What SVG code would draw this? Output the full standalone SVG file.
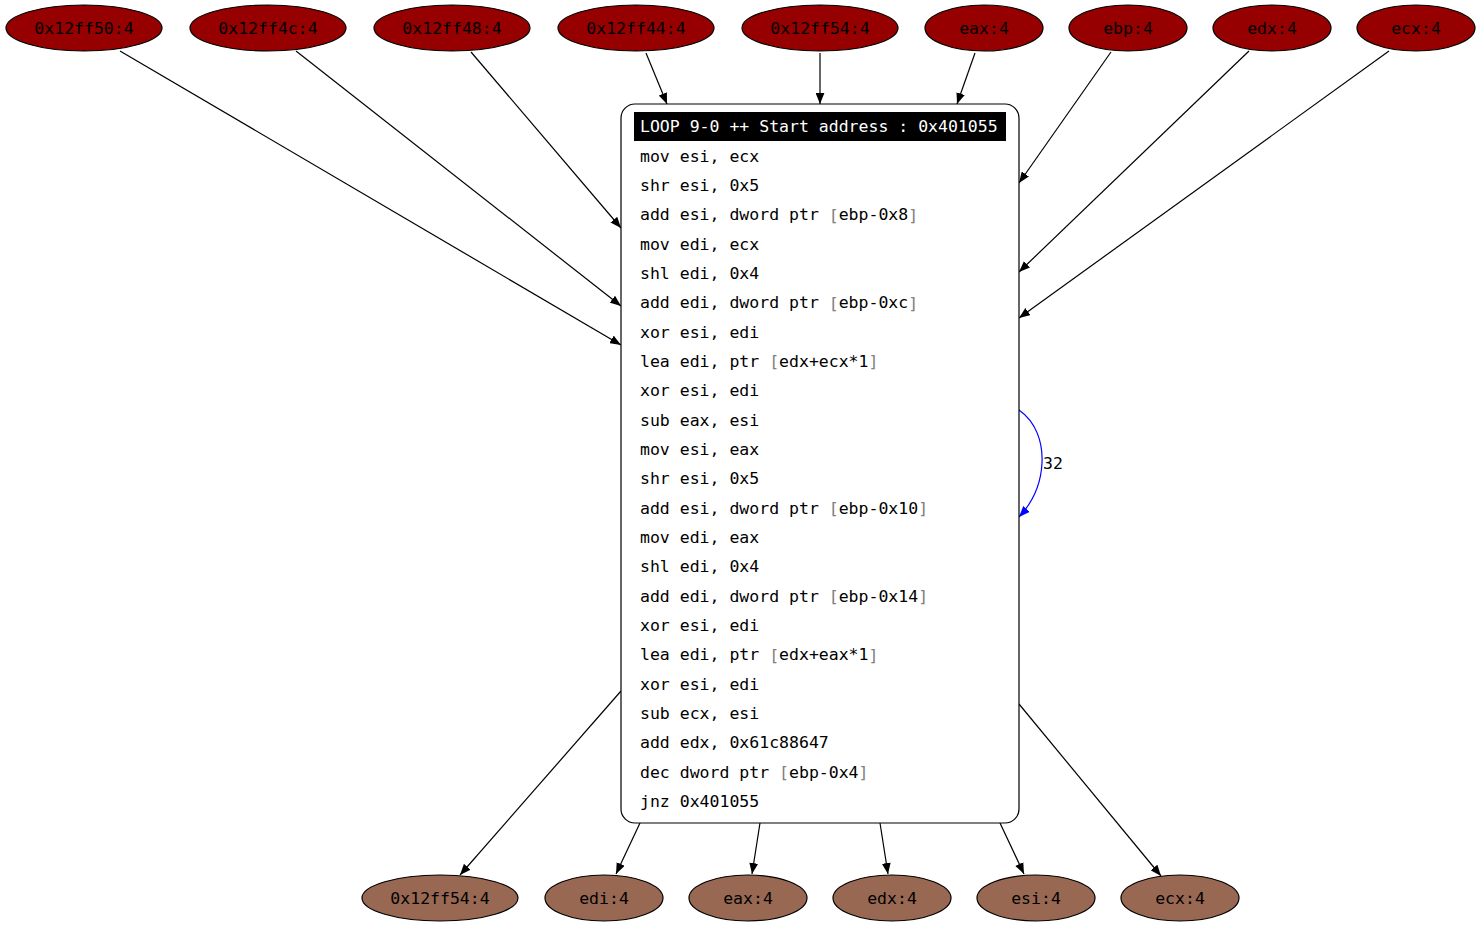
<svg xmlns="http://www.w3.org/2000/svg" width="1480" height="928" viewBox="0 0 1480 928">
  <style>
    text { font-family: "DejaVu Sans Mono", "Liberation Mono", monospace; font-size: 16.5px; }
    .in ellipse { fill: #960000; stroke: #000; stroke-width: 1.2; }
    .out ellipse { fill: #986852; stroke: #000; stroke-width: 1.2; }
    .lbl { text-anchor: middle; dominant-baseline: central; fill: #000; }
    .code { fill: #000; dominant-baseline: central; }
    .br { fill: #808080; }
    .edge { stroke: #000; stroke-width: 1.2; fill: none; marker-end: url(#arr); }
    .loop { stroke: #0000ff; stroke-width: 1.2; fill: none; marker-end: url(#arrb); }
  </style>
  <defs>
    <marker id="arr" viewBox="0 0 10 8" refX="10" refY="4" markerWidth="11" markerHeight="9" markerUnits="userSpaceOnUse" orient="auto">
      <path d="M0,0 L10,4 L0,8 Z" fill="#000"/>
    </marker>
    <marker id="arrb" viewBox="0 0 10 8" refX="10" refY="4" markerWidth="11" markerHeight="9" markerUnits="userSpaceOnUse" orient="auto">
      <path d="M0,0 L10,4 L0,8 Z" fill="#0000ff"/>
    </marker>
  </defs>
  <rect width="1480" height="928" fill="#fff"/>

  <!-- connectors -->
  <g id="edges">
    <line class="edge" x1="120" y1="51" x2="621" y2="345"/>
    <line class="edge" x1="296" y1="51" x2="621" y2="306"/>
    <line class="edge" x1="471" y1="52" x2="621" y2="228"/>
    <line class="edge" x1="646" y1="53" x2="667" y2="104"/>
    <line class="edge" x1="820" y1="53" x2="820" y2="104"/>
    <line class="edge" x1="975" y1="53" x2="957" y2="104"/>
    <line class="edge" x1="1111" y1="52" x2="1019" y2="183"/>
    <line class="edge" x1="1249" y1="51" x2="1019" y2="272"/>
    <line class="edge" x1="1389" y1="51" x2="1019" y2="318"/>
    <line class="edge" x1="621" y1="691" x2="460" y2="875"/>
    <line class="edge" x1="640" y1="823" x2="616" y2="874"/>
    <line class="edge" x1="760" y1="823" x2="752" y2="874"/>
    <line class="edge" x1="880" y1="823" x2="888" y2="874"/>
    <line class="edge" x1="1000" y1="823" x2="1024" y2="874"/>
    <line class="edge" x1="1019" y1="704" x2="1161" y2="876"/>
    <path class="loop" d="M1019,410 C1036,422 1043,442 1042,463 C1041,484 1033,502 1019,517"/>
    <text x="1043" y="463" class="code">32</text>
  </g>

  <!-- input nodes -->
  <g id="in_0x12ff50" class="in"><ellipse cx="84" cy="28" rx="78" ry="23"/><text class="lbl" x="84" y="28">0x12ff50:4</text></g>
  <g id="in_0x12ff4c" class="in"><ellipse cx="268" cy="28" rx="78" ry="23"/><text class="lbl" x="268" y="28">0x12ff4c:4</text></g>
  <g id="in_0x12ff48" class="in"><ellipse cx="452" cy="28" rx="78" ry="23"/><text class="lbl" x="452" y="28">0x12ff48:4</text></g>
  <g id="in_0x12ff44" class="in"><ellipse cx="636" cy="28" rx="78" ry="23"/><text class="lbl" x="636" y="28">0x12ff44:4</text></g>
  <g id="in_0x12ff54" class="in"><ellipse cx="820" cy="28" rx="78" ry="23"/><text class="lbl" x="820" y="28">0x12ff54:4</text></g>
  <g id="in_eax" class="in"><ellipse cx="984" cy="28" rx="59" ry="23"/><text class="lbl" x="984" y="28">eax:4</text></g>
  <g id="in_ebp" class="in"><ellipse cx="1128" cy="28" rx="59" ry="23"/><text class="lbl" x="1128" y="28">ebp:4</text></g>
  <g id="in_edx" class="in"><ellipse cx="1272" cy="28" rx="59" ry="23"/><text class="lbl" x="1272" y="28">edx:4</text></g>
  <g id="in_ecx" class="in"><ellipse cx="1416" cy="28" rx="59" ry="23"/><text class="lbl" x="1416" y="28">ecx:4</text></g>

  <!-- loop body -->
  <g id="loop_9_0">
    <rect x="621" y="104" width="398" height="719" rx="14" ry="14" fill="#fff" stroke="#000" stroke-width="1.2"/>
    <rect x="634" y="112" width="372" height="29" fill="#000"/>
    <text x="640" y="126" class="code" style="fill:#fff">LOOP 9-0 ++ Start address : 0x401055</text>
    <text x="640" y="156" class="code">mov esi, ecx</text>
    <text x="640" y="185.3" class="code">shr esi, 0x5</text>
    <text x="640" y="214.6" class="code">add esi, dword ptr <tspan class="br">[</tspan>ebp-0x8<tspan class="br">]</tspan></text>
    <text x="640" y="244" class="code">mov edi, ecx</text>
    <text x="640" y="273.3" class="code">shl edi, 0x4</text>
    <text x="640" y="302.6" class="code">add edi, dword ptr <tspan class="br">[</tspan>ebp-0xc<tspan class="br">]</tspan></text>
    <text x="640" y="332" class="code">xor esi, edi</text>
    <text x="640" y="361.3" class="code">lea edi, ptr <tspan class="br">[</tspan>edx+ecx*1<tspan class="br">]</tspan></text>
    <text x="640" y="390.6" class="code">xor esi, edi</text>
    <text x="640" y="420" class="code">sub eax, esi</text>
    <text x="640" y="449.3" class="code">mov esi, eax</text>
    <text x="640" y="478.6" class="code">shr esi, 0x5</text>
    <text x="640" y="508" class="code">add esi, dword ptr <tspan class="br">[</tspan>ebp-0x10<tspan class="br">]</tspan></text>
    <text x="640" y="537.3" class="code">mov edi, eax</text>
    <text x="640" y="566.6" class="code">shl edi, 0x4</text>
    <text x="640" y="596" class="code">add edi, dword ptr <tspan class="br">[</tspan>ebp-0x14<tspan class="br">]</tspan></text>
    <text x="640" y="625.3" class="code">xor esi, edi</text>
    <text x="640" y="654.6" class="code">lea edi, ptr <tspan class="br">[</tspan>edx+eax*1<tspan class="br">]</tspan></text>
    <text x="640" y="684" class="code">xor esi, edi</text>
    <text x="640" y="713.3" class="code">sub ecx, esi</text>
    <text x="640" y="742.6" class="code">add edx, 0x61c88647</text>
    <text x="640" y="772" class="code">dec dword ptr <tspan class="br">[</tspan>ebp-0x4<tspan class="br">]</tspan></text>
    <text x="640" y="801.3" class="code">jnz 0x401055</text>
  </g>

  <!-- output nodes -->
  <g id="out_0x12ff54" class="out"><ellipse cx="440" cy="898" rx="78" ry="23"/><text class="lbl" x="440" y="898">0x12ff54:4</text></g>
  <g id="out_edi" class="out"><ellipse cx="604" cy="898" rx="59" ry="23"/><text class="lbl" x="604" y="898">edi:4</text></g>
  <g id="out_eax" class="out"><ellipse cx="748" cy="898" rx="59" ry="23"/><text class="lbl" x="748" y="898">eax:4</text></g>
  <g id="out_edx" class="out"><ellipse cx="892" cy="898" rx="59" ry="23"/><text class="lbl" x="892" y="898">edx:4</text></g>
  <g id="out_esi" class="out"><ellipse cx="1036" cy="898" rx="59" ry="23"/><text class="lbl" x="1036" y="898">esi:4</text></g>
  <g id="out_ecx" class="out"><ellipse cx="1180" cy="898" rx="59" ry="23"/><text class="lbl" x="1180" y="898">ecx:4</text></g>
</svg>
